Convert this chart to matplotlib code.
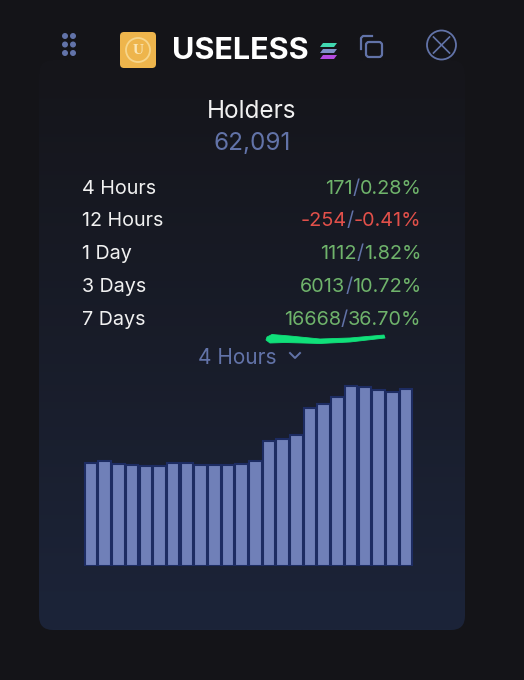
import numpy as np
import matplotlib
matplotlib.use("Agg")
import matplotlib.pyplot as plt
from matplotlib.patches import Circle, FancyBboxPatch, Polygon

# chart data, bar heights
bar_values = [103, 105, 102, 100.7, 100, 100, 102.7, 102.7, 101.3, 101.3, 100.7, 102,
              105, 124.7, 127.3, 130.7, 158, 162.3, 169, 180, 179.3, 175.7, 173.7, 176.7]
periods = ["4 Hours", "12 Hours", "1 Day", "3 Days", "7 Days"]
changes = ["171", "-254", "1112", "6013", "16668"]
percents = ["0.28%", "-0.41%", "1.82%", "10.72%", "36.70%"]
title = "USELESS"
holders_label = "Holders"
holders_count = "62,091"
selected_period = "4 Hours"

W, H = 524, 680
BLUE = "#6273a8"
GREEN = "#6fb36b"
RED = "#e2504a"

plt.rcParams["font.family"] = ["Inter", "DejaVu Sans"]

fig = plt.figure(figsize=(W / 100, H / 100), dpi=100, facecolor="#141418")
# full figure axes working in pixels, y going down
bg = fig.add_axes([0, 0, 1, 1])
bg.set_xlim(0, W)
bg.set_ylim(H, 0)
bg.axis("off")

# panel with vertical gradient, top blends into the page colour
panel = FancyBboxPatch((39, 60), 426, 570, boxstyle="round,pad=0,rounding_size=14",
                       fc="none", ec="none")
bg.add_patch(panel)
grad = np.linspace(0, 1, 256).reshape(-1, 1)
c0 = np.array([0x15, 0x15, 0x1a]) / 255
c1 = np.array([0x1c, 0x24, 0x39]) / 255
img = c0 + (c1 - c0) * grad[..., None]
im = bg.imshow(img, extent=(39, 465, 630, 60), aspect="auto", zorder=1)
im.set_clip_path(panel)
bg.set_xlim(0, W)
bg.set_ylim(H, 0)


def right_row(y, parts):
    # draw coloured text pieces right aligned, last piece first
    x = 421.5
    r = fig.canvas.get_renderer()
    for s, col in reversed(parts):
        t = bg.text(x, y, s, color=col, fontsize=14.3, ha="right", va="center", zorder=3)
        x -= t.get_window_extent(r).width


# header icons
for cx in (65, 73):
    for cy in (36, 44.5, 53):
        bg.add_patch(Circle((cx, cy), 3, fc=BLUE, ec="none", zorder=3))

bg.add_patch(FancyBboxPatch((120, 32), 36, 36, boxstyle="round,pad=0,rounding_size=4",
                            fc="#eeb54c", ec="none", zorder=3))
bg.add_patch(Circle((138, 50), 12, fc="none", ec="#f7d68c", lw=1.3, zorder=4))
bg.text(138, 50.5, "U", color="#fbe6b4", fontsize=11, fontweight="bold", family="Liberation Serif",
        ha="center", va="center", zorder=4)
bg.text(172, 51, title, color="white", fontsize=22, fontweight="bold", ha="left", va="center", zorder=3)

# solana logo
for y0, col in ((43, "#41d8b0"), (49, "#7f8fc8"), (55, "#b44be0")):
    bg.add_patch(Polygon([(323, y0), (337, y0), (334, y0 + 4), (320, y0 + 4)], fc=col, ec="none", zorder=3))

# copy icon
bg.add_patch(FancyBboxPatch((366, 42), 16, 15, boxstyle="round,pad=0,rounding_size=3",
                            fc="none", ec=BLUE, lw=1.6, zorder=3))
bg.plot([361, 361, 363, 372], [49, 38, 36, 36], color=BLUE, lw=1.6, zorder=3)
# close icon
bg.add_patch(Circle((441.5, 45), 14.5, fc="none", ec=BLUE, lw=1.3, zorder=3))
bg.plot([433.5, 449.5], [37, 53], color=BLUE, lw=1.2, zorder=3)
bg.plot([433.5, 449.5], [53, 37], color=BLUE, lw=1.2, zorder=3)

bg.text(252, 112, holders_label, color="#f0f0f0", fontsize=17.5, ha="center", va="center", zorder=3)
bg.text(252, 144, holders_count, color=BLUE, fontsize=17.5, ha="center", va="center", zorder=3)

# stats rows
row_y = [189, 221.5, 254, 287, 320]
for y, p, ch, pc in zip(row_y, periods, changes, percents):
    col = RED if ch.startswith("-") else GREEN
    bg.text(82, y, p, color="#f0f0f0", fontsize=14.2, ha="left", va="center", zorder=3)
    right_row(y, [(ch, col), ("/", BLUE), (pc, col)])

# hand drawn underline
bg.add_patch(Polygon([(267, 337), (272, 334.5), (290, 336), (320, 339), (350, 338), (384, 335),
                      (385, 338), (350, 342), (320, 343.5), (285, 342.5), (270, 343), (266, 340)],
                     fc="#10e07a", ec="#10e07a", lw=0.6, joinstyle="round", zorder=5))

bg.text(198, 358, selected_period, color=BLUE, fontsize=15, ha="left", va="center", zorder=3)
bg.plot([290, 295, 300], [353, 358, 353], color=BLUE, lw=1.4, zorder=3)

# bars
ax = fig.add_axes([78.3 / W, 1 - 566 / H, 339 / W, 190 / H])
ax.patch.set_alpha(0)
ax.bar(range(len(bar_values)), bar_values, width=0.92, color="#7080b8", edgecolor="#1d2c62", linewidth=1.5, zorder=2)
ax.set_xlim(-0.93, 23.83)
ax.set_ylim(0, 190)
ax.axis("off")

fig.savefig("out.png", dpi=100, facecolor=fig.get_facecolor())
